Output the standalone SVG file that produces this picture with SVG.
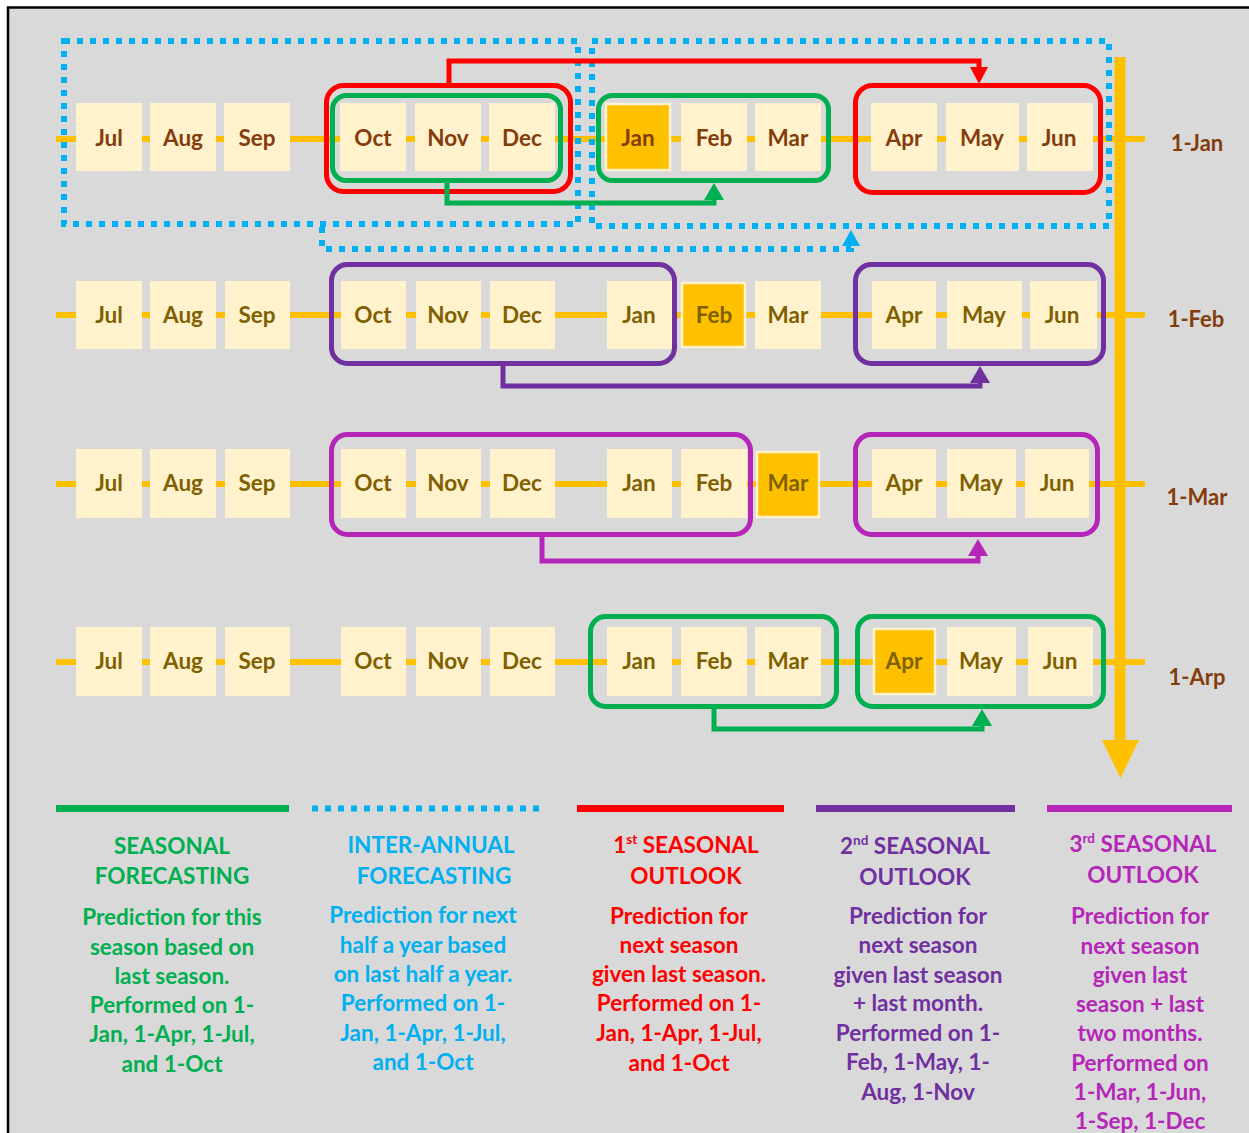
<svg xmlns="http://www.w3.org/2000/svg" width="1249" height="1133" viewBox="0 0 1249 1133">
<defs>
<style>
.box{fill:#FFF2CC}
.hl{fill:#FFC000;stroke:#FFF2CC;stroke-width:2.5}
.m1{font-family:Lato,"Liberation Sans",sans-serif;font-weight:bold;font-size:22.5px;fill:#843C0C;text-anchor:middle}
.m2{font-family:Lato,"Liberation Sans",sans-serif;font-weight:bold;font-size:22.5px;fill:#7F6000;text-anchor:middle}
.lab{font-family:Lato,"Liberation Sans",sans-serif;font-weight:bold;font-size:22px;fill:#843C0C;text-anchor:middle}
.tl{stroke:#FFC000;stroke-width:6;fill:none}
.fr{fill:none;stroke-width:5}
.red{stroke:#FF0000}
.grn{stroke:#00B050}
.pur{stroke:#7030A0}
.mag{stroke:#B526B8}
.blu{stroke:#00B0F0;stroke-width:6;stroke-dasharray:6 7;fill:none}
.con{fill:none;stroke-width:5}
.lg{font-family:Lato,"Liberation Sans",sans-serif;font-weight:bold;font-size:22.5px;text-anchor:middle}
</style>
<marker id="aRed" markerUnits="userSpaceOnUse" markerWidth="17" markerHeight="18" refX="0" refY="9" orient="auto"><path d="M0,0 L17,9 L0,18 z" fill="#FF0000"/></marker>
<marker id="aGrn" markerUnits="userSpaceOnUse" markerWidth="17" markerHeight="20" refX="0" refY="10" orient="auto"><path d="M0,0 L17,10 L0,20 z" fill="#00B050"/></marker>
<marker id="aPur" markerUnits="userSpaceOnUse" markerWidth="17" markerHeight="20" refX="0" refY="10" orient="auto"><path d="M0,0 L17,10 L0,20 z" fill="#7030A0"/></marker>
<marker id="aMag" markerUnits="userSpaceOnUse" markerWidth="17" markerHeight="20" refX="0" refY="10" orient="auto"><path d="M0,0 L17,10 L0,20 z" fill="#B526B8"/></marker>
<marker id="aBlu" markerUnits="userSpaceOnUse" markerWidth="16" markerHeight="18" refX="0" refY="9" orient="auto"><path d="M0,0 L16,9 L0,18 z" fill="#00B0F0"/></marker>
</defs>
<rect x="8" y="7.5" width="1300" height="1200" fill="#D9D9D9" stroke="#000" stroke-width="2.5"/>

<g id="timelines">
<line class="tl" x1="56" y1="139" x2="1145" y2="139"/>
<line class="tl" x1="56" y1="315" x2="1145" y2="315"/>
<line class="tl" x1="56" y1="484" x2="1145" y2="484"/>
<line class="tl" x1="56" y1="662" x2="1145" y2="662"/>
</g>

<g id="row1">
<g id="r1-jul"><rect class="box" x="76" y="103" width="66" height="68"/><text class="m1" x="109" y="146">Jul</text></g>
<g id="r1-aug"><rect class="box" x="150" y="103" width="66" height="68"/><text class="m1" x="183" y="146">Aug</text></g>
<g id="r1-sep"><rect class="box" x="224" y="103" width="66" height="68"/><text class="m1" x="257" y="146">Sep</text></g>
<g id="r1-oct"><rect class="box" x="340" y="103" width="66" height="68"/><text class="m1" x="373" y="146">Oct</text></g>
<g id="r1-nov"><rect class="box" x="415" y="103" width="66" height="68"/><text class="m1" x="448" y="146">Nov</text></g>
<g id="r1-dec"><rect class="box" x="489" y="103" width="66" height="68"/><text class="m1" x="522" y="146">Dec</text></g>
<g id="r1-jan"><rect class="hl" x="606" y="104" width="64" height="66"/><text class="m1" x="638" y="146">Jan</text></g>
<g id="r1-feb"><rect class="box" x="681" y="103" width="66" height="68"/><text class="m1" x="714" y="146">Feb</text></g>
<g id="r1-mar"><rect class="box" x="755" y="103" width="66" height="68"/><text class="m1" x="788" y="146">Mar</text></g>
<g id="r1-apr"><rect class="box" x="871" y="103" width="66" height="68"/><text class="m1" x="904" y="146">Apr</text></g>
<g id="r1-may"><rect class="box" x="946" y="103" width="73" height="68"/><text class="m1" x="982" y="146">May</text></g>
<g id="r1-jun"><rect class="box" x="1027" y="103" width="66" height="68"/><text class="m1" x="1059" y="146">Jun</text></g>
<g id="lbl-1jan"><text class="lab" x="1197" y="151">1-Jan</text></g>
</g>

<g id="row2">
<g id="r2-jul"><rect class="box" x="76" y="281" width="66" height="68"/><text class="m2" x="109" y="323">Jul</text></g>
<g id="r2-aug"><rect class="box" x="150" y="281" width="66" height="68"/><text class="m2" x="183" y="323">Aug</text></g>
<g id="r2-sep"><rect class="box" x="225" y="281" width="65" height="68"/><text class="m2" x="257" y="323">Sep</text></g>
<g id="r2-oct"><rect class="box" x="341" y="281" width="65" height="68"/><text class="m2" x="373" y="323">Oct</text></g>
<g id="r2-nov"><rect class="box" x="416" y="281" width="65" height="68"/><text class="m2" x="448" y="323">Nov</text></g>
<g id="r2-dec"><rect class="box" x="490" y="281" width="65" height="68"/><text class="m2" x="522" y="323">Dec</text></g>
<g id="r2-jan"><rect class="box" x="607" y="281" width="65" height="68"/><text class="m2" x="639" y="323">Jan</text></g>
<g id="r2-feb"><rect class="hl" x="682" y="283" width="63" height="64"/><text class="m2" x="714" y="323">Feb</text></g>
<g id="r2-mar"><rect class="box" x="755" y="281" width="66" height="68"/><text class="m2" x="788" y="323">Mar</text></g>
<g id="r2-apr"><rect class="box" x="872" y="281" width="64" height="68"/><text class="m2" x="904" y="323">Apr</text></g>
<g id="r2-may"><rect class="box" x="947" y="281" width="75" height="68"/><text class="m2" x="984" y="323">May</text></g>
<g id="r2-jun"><rect class="box" x="1030" y="281" width="67" height="68"/><text class="m2" x="1062" y="323">Jun</text></g>
<g id="lbl-1feb"><text class="lab" x="1196" y="327">1-Feb</text></g>
</g>

<g id="row3">
<g id="r3-jul"><rect class="box" x="76" y="449" width="66" height="69"/><text class="m2" x="109" y="491">Jul</text></g>
<g id="r3-aug"><rect class="box" x="150" y="449" width="66" height="69"/><text class="m2" x="183" y="491">Aug</text></g>
<g id="r3-sep"><rect class="box" x="225" y="449" width="65" height="69"/><text class="m2" x="257" y="491">Sep</text></g>
<g id="r3-oct"><rect class="box" x="341" y="449" width="65" height="69"/><text class="m2" x="373" y="491">Oct</text></g>
<g id="r3-nov"><rect class="box" x="416" y="449" width="65" height="69"/><text class="m2" x="448" y="491">Nov</text></g>
<g id="r3-dec"><rect class="box" x="490" y="449" width="65" height="69"/><text class="m2" x="522" y="491">Dec</text></g>
<g id="r3-jan"><rect class="box" x="607" y="449" width="65" height="69"/><text class="m2" x="639" y="491">Jan</text></g>
<g id="r3-feb"><rect class="box" x="681" y="449" width="66" height="69"/><text class="m2" x="714" y="491">Feb</text></g>
<g id="r3-mar"><rect class="hl" x="757" y="452" width="62" height="65"/><text class="m2" x="788" y="491">Mar</text></g>
<g id="r3-apr"><rect class="box" x="872" y="449" width="64" height="69"/><text class="m2" x="904" y="491">Apr</text></g>
<g id="r3-may"><rect class="box" x="947" y="449" width="69" height="69"/><text class="m2" x="981" y="491">May</text></g>
<g id="r3-jun"><rect class="box" x="1025" y="449" width="64" height="69"/><text class="m2" x="1057" y="491">Jun</text></g>
<g id="lbl-1mar"><text class="lab" x="1197" y="505">1-Mar</text></g>
</g>

<g id="row4">
<g id="r4-jul"><rect class="box" x="76" y="627" width="66" height="69"/><text class="m2" x="109" y="669">Jul</text></g>
<g id="r4-aug"><rect class="box" x="150" y="627" width="66" height="69"/><text class="m2" x="183" y="669">Aug</text></g>
<g id="r4-sep"><rect class="box" x="225" y="627" width="65" height="69"/><text class="m2" x="257" y="669">Sep</text></g>
<g id="r4-oct"><rect class="box" x="341" y="627" width="65" height="69"/><text class="m2" x="373" y="669">Oct</text></g>
<g id="r4-nov"><rect class="box" x="416" y="627" width="65" height="69"/><text class="m2" x="448" y="669">Nov</text></g>
<g id="r4-dec"><rect class="box" x="490" y="627" width="65" height="69"/><text class="m2" x="522" y="669">Dec</text></g>
<g id="r4-jan"><rect class="box" x="607" y="627" width="65" height="69"/><text class="m2" x="639" y="669">Jan</text></g>
<g id="r4-feb"><rect class="box" x="681" y="627" width="66" height="69"/><text class="m2" x="714" y="669">Feb</text></g>
<g id="r4-mar"><rect class="box" x="755" y="627" width="66" height="69"/><text class="m2" x="788" y="669">Mar</text></g>
<g id="r4-apr"><rect class="hl" x="874" y="629" width="61" height="65"/><text class="m2" x="904" y="669">Apr</text></g>
<g id="r4-may"><rect class="box" x="947" y="627" width="69" height="69"/><text class="m2" x="981" y="669">May</text></g>
<g id="r4-jun"><rect class="box" x="1028" y="627" width="65" height="69"/><text class="m2" x="1060" y="669">Jun</text></g>
<g id="lbl-1apr"><text class="lab" x="1197" y="685">1-Arp</text></g>
</g>

<g id="frames">
<rect class="blu" x="64" y="41" width="514" height="183"/>
<rect class="blu" x="592" y="41" width="517" height="185"/>
<rect class="fr red" x="326.5" y="85.5" width="244" height="106" rx="17"/>
<rect class="fr grn" x="332.5" y="95.5" width="228" height="85" rx="14"/>
<rect class="fr grn" x="598.5" y="95.5" width="230" height="85" rx="14"/>
<rect class="fr red" x="855.5" y="85.5" width="245" height="107" rx="17"/>
<rect class="fr pur" x="331.5" y="264.5" width="343" height="99" rx="16"/>
<rect class="fr pur" x="855.5" y="264.5" width="248" height="99" rx="16"/>
<rect class="fr mag" x="331.5" y="434.5" width="419" height="100" rx="16"/>
<rect class="fr mag" x="855.5" y="434.5" width="242" height="100" rx="16"/>
<rect class="fr grn" x="590.5" y="616.5" width="246" height="90" rx="15"/>
<rect class="fr grn" x="857.5" y="616.5" width="246" height="90" rx="15"/>
</g>

<g id="connectors">
<path class="con red" d="M449,84 V61 H979 V67" marker-end="url(#aRed)"/>
<path class="con grn" d="M447,182 V203 H714 V200" marker-end="url(#aGrn)"/>
<path class="blu" d="M322,227 V249 H851 V246" marker-end="url(#aBlu)"/>
<path class="con pur" d="M503,366 V386 H980 V383" marker-end="url(#aPur)"/>
<path class="con mag" d="M542,537 V561 H978 V556" marker-end="url(#aMag)"/>
<path class="con grn" d="M714,709 V729 H982 V726" marker-end="url(#aGrn)"/>
<line x1="1120" y1="57" x2="1120" y2="742" stroke="#FFC000" stroke-width="11"/>
<polygon points="1102,740 1139,740 1120.5,778" fill="#FFC000"/>
</g>

<g id="legend-seasonal">
<line x1="56" y1="808.5" x2="289" y2="808.5" stroke="#00B050" stroke-width="7"/>
<text class="lg" fill="#00B050"><tspan x="172" y="854">SEASONAL</tspan><tspan x="172" y="884">FORECASTING</tspan><tspan x="172" y="925">Prediction for this</tspan><tspan x="172" y="955">season based on</tspan><tspan x="172" y="984">last season.</tspan><tspan x="172" y="1013">Performed on 1-</tspan><tspan x="172" y="1042">Jan, 1-Apr, 1-Jul,</tspan><tspan x="172" y="1072">and 1-Oct</tspan></text>
</g>
<g id="legend-interannual">
<line x1="312" y1="808.5" x2="540" y2="808.5" stroke="#00B0F0" stroke-width="6" stroke-dasharray="6 7"/>
<text class="lg" fill="#00B0F0"><tspan x="431" y="853">INTER-ANNUAL</tspan><tspan x="434" y="884">FORECASTING</tspan><tspan x="423" y="923">Prediction for next</tspan><tspan x="423" y="953">half a year based</tspan><tspan x="423" y="982">on last half a year.</tspan><tspan x="423" y="1011">Performed on 1-</tspan><tspan x="423" y="1041">Jan, 1-Apr, 1-Jul,</tspan><tspan x="423" y="1070">and 1-Oct</tspan></text>
</g>
<g id="legend-first">
<line x1="577" y1="808.5" x2="784" y2="808.5" stroke="#FF0000" stroke-width="7"/>
<text class="lg" fill="#FF0000"><tspan x="686" y="853">1<tspan font-size="13.5" dy="-9">st</tspan><tspan dy="9"> SEASONAL</tspan></tspan><tspan x="686" y="884">OUTLOOK</tspan><tspan x="679" y="924">Prediction for</tspan><tspan x="679" y="953">next season</tspan><tspan x="679" y="982">given last season.</tspan><tspan x="679" y="1011">Performed on 1-</tspan><tspan x="679" y="1041">Jan, 1-Apr, 1-Jul,</tspan><tspan x="679" y="1071">and 1-Oct</tspan></text>
</g>
<g id="legend-second">
<line x1="816" y1="808.5" x2="1015" y2="808.5" stroke="#7030A0" stroke-width="7"/>
<text class="lg" fill="#7030A0"><tspan x="915" y="854">2<tspan font-size="13.5" dy="-9">nd</tspan><tspan dy="9"> SEASONAL</tspan></tspan><tspan x="915" y="885">OUTLOOK</tspan><tspan x="918" y="924">Prediction for</tspan><tspan x="918" y="953">next season</tspan><tspan x="918" y="983">given last season</tspan><tspan x="918" y="1011">+ last month.</tspan><tspan x="918" y="1041">Performed on 1-</tspan><tspan x="918" y="1070">Feb, 1-May, 1-</tspan><tspan x="918" y="1100">Aug, 1-Nov</tspan></text>
</g>
<g id="legend-third">
<line x1="1047" y1="808.5" x2="1232" y2="808.5" stroke="#B526B8" stroke-width="7"/>
<text class="lg" fill="#B526B8"><tspan x="1143" y="852">3<tspan font-size="13.5" dy="-9">rd</tspan><tspan dy="9"> SEASONAL</tspan></tspan><tspan x="1143" y="883">OUTLOOK</tspan><tspan x="1140" y="924">Prediction for</tspan><tspan x="1140" y="954">next season</tspan><tspan x="1140" y="983">given last</tspan><tspan x="1140" y="1012">season + last</tspan><tspan x="1140" y="1041">two months.</tspan><tspan x="1140" y="1071">Performed on</tspan><tspan x="1140" y="1100">1-Mar, 1-Jun,</tspan><tspan x="1140" y="1129">1-Sep, 1-Dec</tspan></text>
</g>
</svg>
